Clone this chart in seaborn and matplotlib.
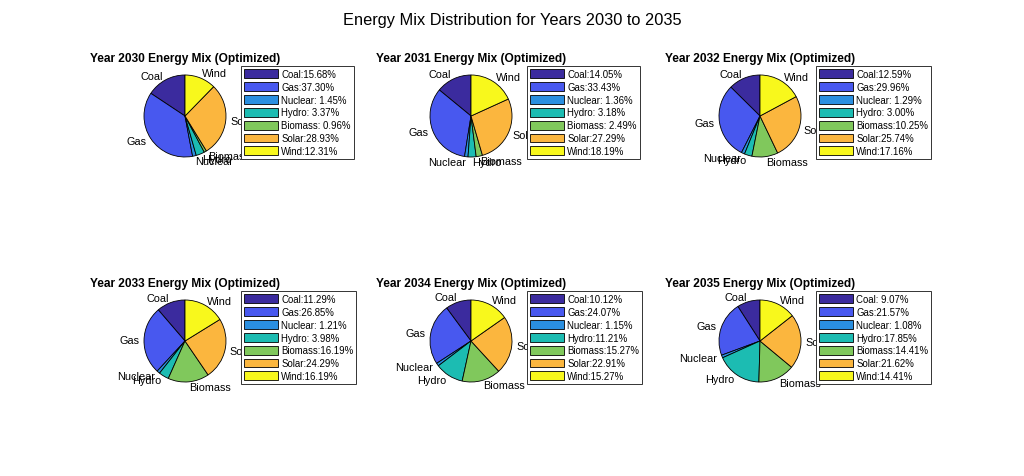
import matplotlib
matplotlib.use('Agg')
import matplotlib.pyplot as plt
import seaborn as sns

years = [2030, 2031, 2032, 2033, 2034, 2035]
sources = ['Coal', 'Gas', 'Nuclear', 'Hydro', 'Biomass', 'Solar', 'Wind']
coal = [15.68, 14.05, 12.59, 11.29, 10.12, 9.07]
gas = [37.30, 33.43, 29.96, 26.85, 24.07, 21.57]
nuclear = [1.45, 1.36, 1.29, 1.21, 1.15, 1.08]
hydro = [3.37, 3.18, 3.00, 3.98, 11.21, 17.85]
biomass = [0.96, 2.49, 10.25, 16.19, 15.27, 14.41]
solar = [28.93, 27.29, 25.74, 24.29, 22.91, 21.62]
wind = [12.31, 18.19, 17.16, 16.19, 15.27, 14.41]

# parula-like colours
colors = sns.color_palette(['#3b2b9e', '#4858ef', '#2a8fe0', '#1cbcb2',
                            '#80c85c', '#fbb63e', '#f8f81c'])

sns.set_style('white')
plt.rcParams['font.family'] = ['Liberation Sans', 'DejaVu Sans']
plt.rcParams['text.color'] = 'black'

W, H = 1024, 477
fig = plt.figure(figsize=(W / 100, H / 100), dpi=100)
fig.text(0.5, 1 - 20 / H, 'Energy Mix Distribution for Years 2030 to 2035',
         ha='center', va='center', fontsize=11.8)

centers_x = [185, 471, 760]
centers_y = [117, 342]
r = 41
half = 1.25 * r

for i, yr in enumerate(years):
    cx = centers_x[i % 3]
    cy = centers_y[i // 3]
    vals = [coal[i], gas[i], nuclear[i], hydro[i], biomass[i], solar[i], wind[i]]
    ax = fig.add_axes([(cx - half) / W, 1 - (cy + half) / H, 2 * half / W, 2 * half / H])
    wedges, texts = ax.pie(vals, labels=sources, colors=colors, startangle=90,
                           counterclock=True, labeldistance=1.12,
                           wedgeprops=dict(edgecolor='black', linewidth=0.6),
                           textprops=dict(fontsize=7.8, color='black'))
    ax.set_xlim(-1.25, 1.25)
    ax.set_ylim(-1.25, 1.25)
    ax.set_aspect('equal')
    ax.axis('off')
    ax.set_title(f'Year {yr} Energy Mix (Optimized)', fontsize=8.6,
                 fontweight='bold', pad=3, color='black')
    labels = [f'{s}:{v:5.2f}%' for s, v in zip(sources, vals)]
    leg = ax.legend(wedges, labels, loc='upper left',
                    bbox_to_anchor=((cx + 56) / W, 1 - (cy - 50) / H),
                    bbox_transform=fig.transFigure, fontsize=6.9,
                    frameon=True, fancybox=False, framealpha=1,
                    edgecolor='#333333', borderpad=0.3, labelspacing=0.3,
                    handlelength=3.6, handleheight=1.05, handletextpad=0.3,
                    borderaxespad=0)
    leg.get_frame().set_linewidth(0.7)

fig.savefig('out.png', dpi=100)
